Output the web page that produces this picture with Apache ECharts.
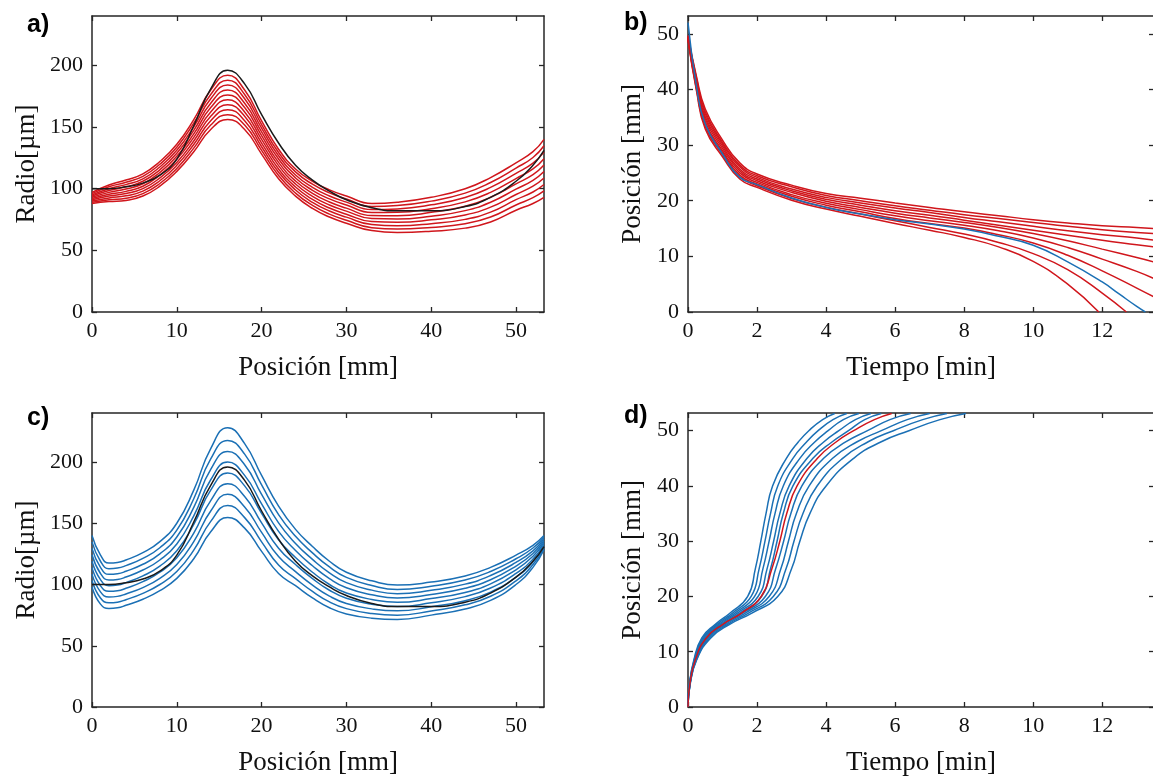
<!DOCTYPE html>
<html><head><meta charset="utf-8">
<script src="https://cdn.jsdelivr.net/npm/echarts@6/dist/echarts.min.js"></script>
<style>html,body{margin:0;padding:0;background:#fff}#c{width:1153px;height:776px}</style>
</head><body><div id="c"></div>
<script>
// ---------- Panel a / c : Radio vs Posición ----------
const posA = [0,2,4,6,8,10,12,14,16,18,20,22,24,26,28,30,33,36,40,44,47,50,52,53.3];
const radioNegro = [100,100,101.5,104.5,111,124,151,181,196,185,160,137,119,107,98,91,84.5,82,82,85.5,93,106,119,131];
const radioRojoA = [
 [97,103,107,112,122,136,156,180,192,180,155,132,116,106,99,94,88,89,93,100,109,121,130,140],
 [96,101.5,105.2,110,119.8,133.6,153.1,176.4,188,176.4,152,129.3,113.6,103.6,96.6,91.6,85.6,86.3,89.9,96.4,105,116.7,125.3,134.8],
 [95,100,103.3,108,117.6,131.1,150.2,172.9,184,172.9,149,126.7,111.1,101.1,94.1,89.1,83.1,83.6,86.9,92.9,101,112.4,120.7,129.6],
 [94,98.5,101.5,106,115.3,128.7,147.3,169.3,180,169.3,146,124,108.7,98.7,91.7,86.7,80.7,80.8,83.8,89.3,97,108.2,116,124.3],
 [93,97,99.7,104,113.1,126.2,144.4,165.8,176,165.8,143,121.3,106.2,96.2,89.2,84.2,78.2,78.1,80.8,85.8,93,103.9,111.3,119.1],
 [92,95.5,97.8,102,110.9,123.8,141.6,162.2,172,162.2,140,118.7,103.8,93.8,86.8,81.8,75.8,75.4,77.7,82.2,89,99.6,106.7,113.9],
 [91,94,96,100,108.7,121.3,138.7,158.7,168,158.7,137,116,101.3,91.3,84.3,79.3,73.3,72.7,74.7,78.7,85,95.3,102,108.7],
 [90,92.5,94.2,98,106.4,118.9,135.8,155.1,164,155.1,134,113.3,98.9,88.9,81.9,76.9,70.9,69.9,71.6,75.1,81,91.1,97.3,103.4],
 [89,91,92.3,96,104.2,116.4,132.9,151.6,160,151.6,131,110.7,96.4,86.4,79.4,74.4,68.4,67.2,68.6,71.6,77,86.8,92.7,98.2],
 [88,89.5,90.5,94,102,114,130,148,156,148,128,108,94,84,77,72,66,64.5,65.5,68,73,82.5,88,93]
];
const posC = [0,1,2,3,4,6,8,10,12,14,16,18,20,22,24,26,28,30,33,36,40,44,47,50,52,53.3];
const radioAzulC = [
 [140,124,117.5,118,120,126,135,150,177,211,228,215,189,164,145,131,119,110,103,99.5,102,107,114,124,132,140],
 [134.8,119,112.9,113.4,115.4,121.3,130,144.4,170,202.5,217.6,206.4,181.3,157.1,139.3,125.8,114.3,105.8,99.2,96,98.6,103.6,110.6,121,129.8,138.6],
 [129.5,114,108.3,108.8,110.8,116.5,125,138.8,163,194,208.6,197.8,173.5,150.3,133.5,120.5,109.5,101.5,95.4,92.5,95.3,100.3,107.3,118,127.5,137.1],
 [124.3,109,103.6,104.1,106.1,111.8,120,133.1,156,185.5,199.9,189.1,165.8,143.4,127.8,115.3,104.8,97.3,91.6,89,91.9,96.9,103.9,115,125.3,135.7],
 [119,104,99,99.5,101.5,107,115,127.5,149,177,191,180.5,158,136.5,122,110,100,93,87.8,85.5,88.5,93.5,100.5,112,123,134.3],
 [113.8,99,94.4,94.9,96.9,102.3,110,121.9,142,168.5,182.3,171.9,150.3,129.6,116.3,104.8,95.3,88.8,83.9,82,85.1,90.1,97.1,109,120.8,132.8],
 [108.5,94,89.8,90.3,92.3,97.5,105,116.3,135,160,173.6,163.3,142.5,122.8,110.5,99.5,90.5,84.5,80.1,78.5,81.8,86.8,93.8,106,118.5,131.4],
 [103.3,89,85.1,85.6,87.6,92.8,100,110.6,128,151.5,164.4,154.6,134.8,115.9,104.8,94.3,85.8,80.3,76.3,75,78.4,83.4,90.4,103,116.3,129.9],
 [98,84,80.5,81,83,88,95,105,121,143,154.6,146,127,109,99,89,81,76,72.5,71.5,75,80,87,100,114,128.5]
];
// ---------- Panel b : Posición vs Tiempo ----------
const tiempoB = [0,0.25,0.5,1,1.5,2,3,4,5,6,7,8,9,10,11,12,13,13.5];
const tiempoB7 = [0,0.25,0.5,1,1.5,2,3,4,5,6,7,8,9,10,11,12,12.7];
const tiempoB8 = [0,0.25,0.5,1,1.5,2,3,4,5,6,7,8,9,10,11,11.9];
const tiempoBAzul = [0,0.25,0.5,1,1.5,2,3,4,5,6,7,8,9,10,11,12,12.5,13,13.25];
const posRojoB = [
 [49.7,42.2,36.5,30.9,26.8,24.8,22.8,21.3,20.45,19.6,18.8,18.0,17.3,16.6,16.0,15.5,15.2,15.0],
 [49.6,41.9,36.0,30.5,26.4,24.5,22.5,20.95,20.0,19.1,18.3,17.5,16.8,16.1,15.4,14.8,14.3,14.1],
 [49.5,41.6,35.6,30.2,26.1,24.2,22.1,20.6,19.6,18.7,17.9,17.0,16.2,15.4,14.6,13.9,13.3,12.9],
 [49.4,41.2,35.1,29.8,25.7,23.9,21.8,20.25,19.2,18.2,17.4,16.5,15.6,14.7,13.8,12.9,12.1,11.7],
 [49.3,40.9,34.7,29.4,25.4,23.6,21.5,19.9,18.8,17.75,16.9,16.1,15.2,14.1,12.8,11.3,9.8,9.0],
 [49.2,40.6,34.2,29.0,25.0,23.3,21.1,19.55,18.4,17.3,16.4,15.6,14.6,13.3,11.6,9.5,7.3,6.0],
 [49.1,40.2,33.8,28.7,24.6,23.0,20.8,19.2,18.0,16.8,15.9,15.1,13.9,12.4,10.2,7.4,4.3,2.7]
];
const posRojoB7 = [49.0,39.9,33.3,28.3,24.3,22.7,20.4,18.85,17.6,16.4,15.2,14.0,12.5,10.5,7.6,3.4,0];
const posRojoB8 = [48.9,39.6,32.9,27.9,23.9,22.4,20.1,18.5,17.2,15.9,14.7,13.4,11.7,9.1,5.0,0];
const posAzulB = [52,40.4,33.8,28.4,24.2,22.9,20.5,18.8,17.6,16.6,15.8,14.9,13.6,12.0,9.0,5.4,3.2,1.0,0];
// ---------- Panel d : Posición vs Tiempo ----------
const posD = [0,4,8.5,12.5,15,17,20,25,30,35,40,45,48,50,52,53.1];
const tiempoAzulD = [
 [0,0.04,0.17,0.40,0.80,1.22,1.73,1.95,2.11,2.26,2.45,2.85,3.20,3.50,3.90,4.25],
 [0,0.04,0.18,0.43,0.85,1.29,1.83,2.06,2.23,2.39,2.60,3.04,3.44,3.77,4.20,4.60],
 [0,0.045,0.19,0.46,0.90,1.36,1.93,2.17,2.35,2.52,2.76,3.24,3.68,4.06,4.50,4.95],
 [0,0.045,0.20,0.49,0.95,1.43,2.03,2.29,2.48,2.66,2.93,3.45,3.94,4.37,4.85,5.30],
 [0,0.05,0.21,0.52,1.00,1.50,2.13,2.39,2.58,2.76,3.04,3.62,4.18,4.65,5.12,5.60],
 [0,0.05,0.22,0.55,1.05,1.58,2.24,2.54,2.77,2.98,3.30,3.93,4.58,5.20,5.85,6.45],
 [0,0.055,0.23,0.58,1.10,1.66,2.35,2.69,2.91,3.14,3.51,4.19,4.90,5.60,6.35,7.00],
 [0,0.055,0.24,0.62,1.16,1.75,2.47,2.84,3.07,3.33,3.74,4.48,5.22,5.95,6.80,7.50],
 [0,0.06,0.25,0.66,1.22,1.85,2.60,3.00,3.24,3.53,4.00,4.80,5.60,6.40,7.30,8.05]
];
const tiempoRojoD = [0,0.05,0.21,0.53,1.02,1.55,2.12,2.43,2.66,2.86,3.16,3.75,4.3,4.8,5.4,5.9];
// ---------- Ticks / labels ----------
const ticksRadio = [0,50,100,150,200];
const ticksPosX = [0,10,20,30,40,50];
const ticksTiempo = [0,2,4,6,8,10,12];
const ticksPosY = [0,10,20,30,40,50];
const rangoRadio = {min:0, max:240};
const rangoPosX = {min:0, max:53.3};
const rangoTiempo = {min:0, max:13.5};
const rangoPosY = {min:0, max:53.2};

const RED = '#d0161c', BLUE = '#1b70b5', BLACK = '#1a1a1a', AX = '#262626';
const SERIF = '"Liberation Serif","Times New Roman",serif';

const grids = [
  {left:92, top:16, width:452, height:296},
  {left:688, top:16, width:466, height:296},
  {left:92, top:413, width:452, height:294},
  {left:688, top:413, width:466, height:294}
].map(g => Object.assign(g, {outerBoundsMode:'none', containLabel:false}));
const xDefs = [
  [rangoPosX, ticksPosX, 'Posición [mm]'], [rangoTiempo, ticksTiempo, 'Tiempo [min]'],
  [rangoPosX, ticksPosX, 'Posición [mm]'], [rangoTiempo, ticksTiempo, 'Tiempo [min]']
];
const yDefs = [
  [rangoRadio, ticksRadio, 'Radio[µm]', 52], [rangoPosY, ticksPosY, 'Posición [mm]', 42],
  [rangoRadio, ticksRadio, 'Radio[µm]', 52], [rangoPosY, ticksPosY, 'Posición [mm]', 42]
];
const xAxis = [], yAxis = [];
function axisBase(range, ticks){
  return Object.assign({type:'value', splitLine:{show:false},
    axisLine:{show:true, onZero:false, lineStyle:{color:AX, width:1.5}},
    axisTick:{show:true, inside:true, length:5, customValues:ticks, lineStyle:{color:AX, width:1.3}}}, range);
}
grids.forEach((g, i) => {
  const [xr, xt, xn] = xDefs[i];
  const [yr, yt, yn, yg] = yDefs[i];
  xAxis.push(Object.assign(axisBase(xr, xt), {gridIndex:i, position:'bottom', name:xn, nameLocation:'middle', nameGap:42,
    nameTextStyle:{fontFamily:SERIF, fontSize:27, color:'#111'},
    axisLabel:{show:true, customValues:xt, margin:8, fontFamily:SERIF, fontSize:22, color:'#111'}}));
  xAxis.push(Object.assign(axisBase(xr, xt), {gridIndex:i, position:'top', axisLabel:{show:false}}));
  yAxis.push(Object.assign(axisBase(yr, yt), {gridIndex:i, position:'left', name:yn, nameLocation:'middle', nameGap:yg,
    nameTextStyle:{fontFamily:SERIF, fontSize:27, color:'#111'},
    axisLabel:{show:true, customValues:yt, margin:9, fontFamily:SERIF, fontSize:22, color:'#111'}}));
  yAxis.push(Object.assign(axisBase(yr, yt), {gridIndex:i, position:'right', axisLabel:{show:false}}));
});

function zip(xs, ys){ return ys.map((y, k) => [xs[k], y]); }
function line(g, data, color, z){
  return {type:'line', xAxisIndex:g*2, yAxisIndex:g*2, data:data, symbol:'none', showSymbol:false,
    smooth:0.5, clip:true, silent:true, z:z,
    lineStyle:{color:color, width:1.5}};
}
const series = [];
radioRojoA.forEach(r => series.push(line(0, zip(posA, r), RED, 2)));
series.push(line(0, zip(posA, radioNegro), BLACK, 3));
posRojoB.forEach(r => series.push(line(1, zip(tiempoB, r), RED, 2)));
series.push(line(1, zip(tiempoB7, posRojoB7), RED, 2));
series.push(line(1, zip(tiempoB8, posRojoB8), RED, 2));
series.push(line(1, zip(tiempoBAzul, posAzulB), BLUE, 3));
radioAzulC.forEach(r => series.push(line(2, zip(posC, r), BLUE, 2)));
series.push(line(2, zip(posA, radioNegro), BLACK, 3));
tiempoAzulD.forEach(t => series.push(line(3, zip(t, posD), BLUE, 2)));
series.push(line(3, zip(tiempoRojoD, posD), RED, 3));

const labelFont = 'bold 25px "Liberation Sans", Arial, sans-serif';
const chart = echarts.init(document.getElementById('c'), null, {renderer:'canvas'});
chart.setOption({
  animation:false,
  backgroundColor:'#fff',
  grid: grids,
  xAxis: xAxis,
  yAxis: yAxis,
  series: series,
  graphic: [
    {type:'text', left:27, top:13, style:{text:'a)', font:labelFont, fill:'#000'}},
    {type:'text', left:624, top:11, style:{text:'b)', font:labelFont, fill:'#000'}},
    {type:'text', left:27, top:406, style:{text:'c)', font:labelFont, fill:'#000'}},
    {type:'text', left:624, top:404, style:{text:'d)', font:labelFont, fill:'#000'}}
  ]
});
</script></body></html>
